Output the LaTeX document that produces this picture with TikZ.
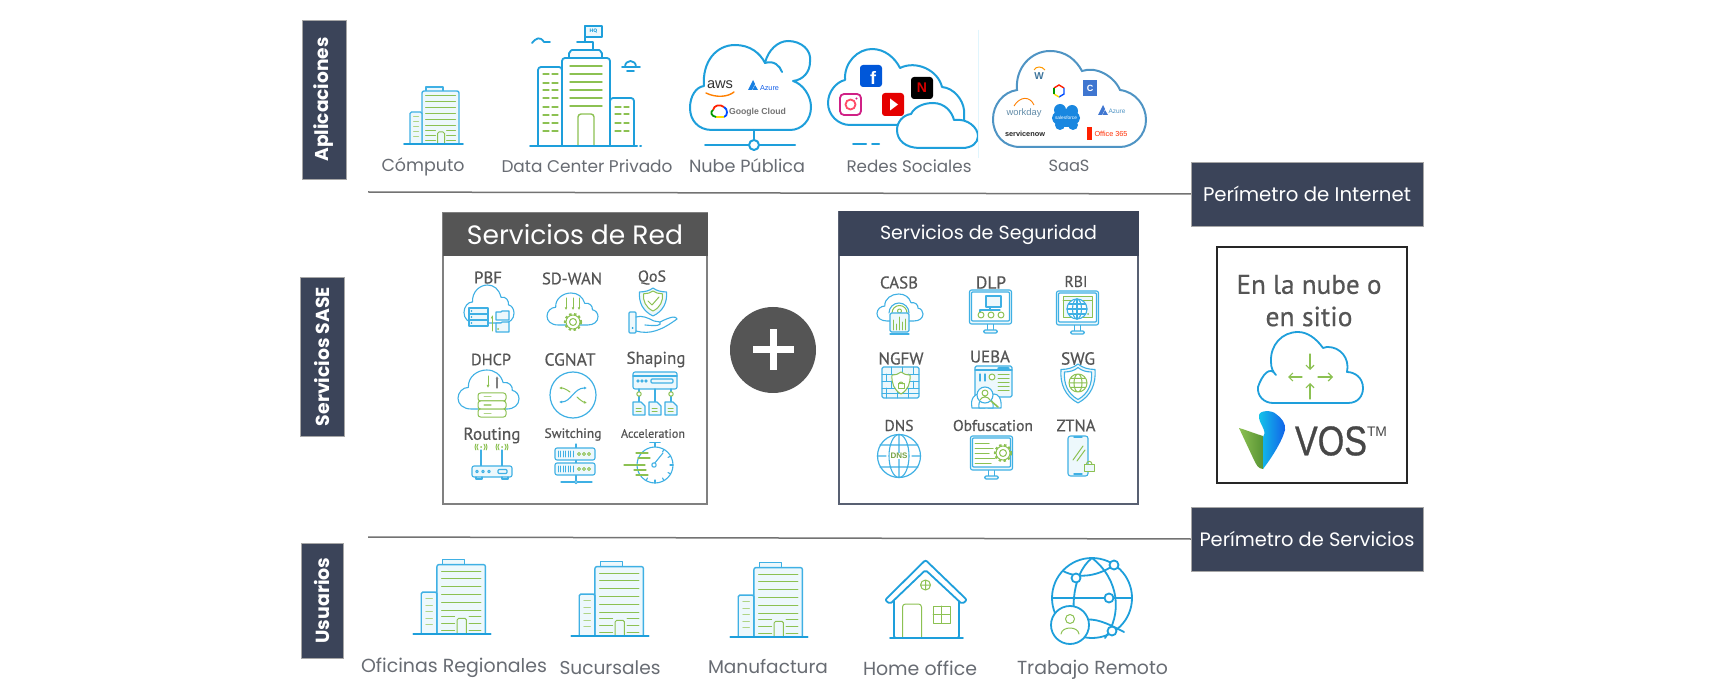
\documentclass[tikz,border=0pt]{standalone}
\usepackage{fontspec}
\usepackage{graphicx}
\setmainfont{Poppins}
\newfontfamily\ilabf[FakeBold=0.5]{PT Sans}
\newfontfamily\logof{Liberation Sans}
\newfontfamily\vosf[FakeBold=0.8]{Liberation Sans}
\usetikzlibrary{arrows.meta}
\definecolor{navy}{HTML}{3B4459}
\definecolor{headgrey}{HTML}{555555}
\definecolor{ib}{HTML}{1E9FDB}
\definecolor{ibl}{HTML}{3FB0E4}
\definecolor{ig}{HTML}{8CC152}
\definecolor{txt}{HTML}{686C73}
\definecolor{pale}{HTML}{EDF8FC}
\definecolor{steel}{HTML}{4F94C4}
\newcommand\fw[2]{\resizebox{#1pt}{!}{#2}}
\tikzset{
  bl/.style={draw=ib,line width=1.8pt,line join=round,line cap=round},
  blt/.style={draw=ibl,line width=1.1pt,line join=round,line cap=round},
  gr/.style={draw=ig,line width=1pt,line cap=round,line join=round},
  lbl/.style={inner sep=0pt,text=txt,font=\fontsize{18}{18}\selectfont},
  ilab/.style={inner sep=0pt,yshift=-1.5pt,text=headgrey,font=\ilabf\fontsize{18}{18}\selectfont},
  band/.style={fill=navy,draw=gray!70,line width=.5pt,inner sep=0pt,text=white,font=\bfseries\fontsize{18}{18}\selectfont},
  logo/.style={inner sep=0pt,font=\logof\fontsize{10}{10}\selectfont},
  cloudbox/.style n args={4}{shift={({(#1+#2)/2},{(#3+#4)/2+2.5*(#4-#3)/65})},xscale={(#2-#1)/100},yscale={(#4-#3)/65},
    insert path={(-28,30) .. controls (-42,30) and (-50,22) .. (-50,12) .. controls (-50,2) and (-42,-6) .. (-33,-6) .. controls (-34,-24) and (-18,-35) .. (-3,-35) .. controls (10,-35) and (20,-28) .. (24,-14) .. controls (34,-16) and (40,-8) .. (39,-1) .. controls (46,0) and (50,7) .. (50,13) .. controls (50,23) and (42,30) .. (30,30) -- cycle}},
  shieldbox/.style n args={4}{shift={(#1,#2)},xscale={#3/90},yscale={#4/100},
    insert path={(0,-50) .. controls (12,-40) and (28,-36) .. (45,-36) .. controls (48,0) and (35,32) .. (0,50) .. controls (-35,32) and (-48,0) .. (-45,-36) .. controls (-28,-36) and (-12,-40) .. (0,-50) -- cycle}},
  building/.pic={
    \draw[blt,fill=pale] (-7.5,-53) -- (-7.5,-57) -- (9.5,-57) -- (9.5,-53);
    \draw[blt,line width=1.4pt,fill=pale,rounded corners=2pt] (-11.5,0) -- (-11.5,-53) -- (25.5,-53) -- (25.5,0);
    \draw[blt,line width=1.4pt,fill=pale,rounded corners=1.5pt] (-11.5,0) -- (-11.5,-32) -- (-23.5,-32) -- (-23.5,0);
    \foreach \yy in {-48,-42,-36,-30,-24,-18} \draw[gr] (-8,\yy) -- (22,\yy);
    \foreach \yy in {-13,-8,-3} {\draw[gr] (-8,\yy) -- (2,\yy); \draw[gr] (13,\yy) -- (22,\yy);}
    \foreach \yy in {-27,-22,-17,-12,-7} \draw[gr,draw=ig!70] (-20,\yy) -- (-15,\yy);
    \draw[gr,fill=pale,rounded corners=1.5pt] (4,0) -- (4,-12) -- (11,-12) -- (11,0);
    \draw[bl] (-29.5,0) -- (29.5,0);
  },
  globe/.pic={
    \draw[blt,fill=white] (0,0) circle (10);
    \draw[blt] (0,0) ellipse (4.5 and 10);
    \draw[blt] (-10,0) -- (10,0);
    \draw[blt] (-8.7,-5) -- (8.7,-5);
    \draw[blt] (-8.7,5) -- (8.7,5);
    \draw[blt] (0,-10) -- (0,10);
  },
  monitor/.pic={
    \draw[blt] (-3,17) -- (-3,23) (3,17) -- (3,23);
    \draw[blt,fill=pale,rounded corners=1.5pt] (-7,23) rectangle (7,26);
    \draw[blt,fill=pale,rounded corners=2pt] (-21,-17) rectangle (21,17);
    \draw[blt,fill=white,rounded corners=1pt] (-19,-15) rectangle (19,14);
  },
  gearp/.pic={
    \draw[gr,line width=2.2pt,line cap=butt,dash pattern=on 2.4pt off 2.4pt] (0,0) circle (8);
    \draw[gr,fill=white] (0,0) circle (7);
    \draw[gr] (0,0) circle (3.5);
  }
}
\begin{document}
\begin{tikzpicture}[x=1pt,y=-1pt]
\useasboundingbox (0,0) rectangle (1724,692);
\fill[white] (0,0) rectangle (1724,692);

% ---------- side bands
\node[band,rotate=90,minimum width=159pt,minimum height=44pt] (bandA) at (324,99.5) {\fw{124}{Aplicaciones}};
\node[band,rotate=90,minimum width=159pt,minimum height=44pt] (bandS) at (322,356.5) {\fw{139}{Servicios SASE}};
\node[band,rotate=90,minimum width=115pt,minimum height=42pt] (bandU) at (322,600.5) {\fw{86}{Usuarios}};

% ---------- perimeter boxes and lines
\node[band,minimum width=232pt,minimum height=64pt,font=\fontsize{18}{18}\selectfont] (perI) at (1307,194) {\fw{208}{Perímetro de Internet}};
\node[band,minimum width=232pt,minimum height=64pt,font=\fontsize{18}{18}\selectfont] (perS) at (1307,539) {\fw{215}{Perímetro de Servicios}};
\coordinate (lineA) at (368,192);
\coordinate (lineB) at (368,537);
\draw[draw=gray!90!black,line width=1.5pt] (lineA) -- (perI.west);
\draw[draw=gray!90!black,line width=1.5pt] (lineB) -- (perS.west);

% ---------- top row
\pic at (433.5,144) {building};
\node[lbl] (tCom) at (423,167) {\fw{83}{Cómputo}};

% data center
\draw[bl,draw=ib,fill=pale!40] (569,58) -- (569,53) to[out=-90,in=180] (572,50) -- (599,50) to[out=0,in=-90] (602,53) -- (602,58);
\draw[bl] (593,50) -- (593,42) -- (577,42);
\draw[bl] (585,42) -- (585,26);
\draw[bl,fill=pale] (585,26) rectangle (602,37);
\node[inner sep=0pt,text=ib,font=\bfseries\fontsize{5}{5}\selectfont] (tHQ) at (593.5,31.5) {HQ};
\draw[bl,fill=white,rounded corners=3pt] (562,146) -- (562,67) -- (538,67) -- (538,146);
\draw[bl,fill=white,rounded corners=3pt] (610,146) -- (610,98) -- (634,98) -- (634,146);
\draw[bl,fill=white,rounded corners=3pt] (562,146) -- (562,58) -- (610,58) -- (610,146);
\foreach \yy in {66,74,82,90,98,106} \draw[gr,line width=1.4pt] (570,\yy) -- (602,\yy);
\foreach \yy in {74,83,90,98,107,115,123,131} {\draw[gr,line width=1.2pt] (543,\yy) -- (549,\yy); \draw[gr,line width=1.2pt] (552,\yy) -- (558,\yy);}
\foreach \yy in {107,114,123,131} {\draw[gr,line width=1.2pt] (615,\yy) -- (621,\yy); \draw[gr,line width=1.2pt] (624,\yy) -- (629,\yy);}
\draw[gr,line width=1.4pt,rounded corners=3pt] (578,146) -- (578,114) -- (594,114) -- (594,146);
\draw[bl,line width=2pt] (530,146) -- (637,146);
\draw[bl,line width=2pt] (640,146) -- (641,146);
\draw[bl,line width=1.8pt] (532,43) .. controls (536,38) and (540,36) .. (544,42) -- (550,42);
\draw[bl,line width=1.8pt] (622,67) -- (640,67);
\draw[bl,line width=1.8pt] (625,67) .. controls (625,59) and (636,59) .. (636,67);
\draw[bl,line width=1.8pt] (627,71) -- (634,71);
\node[lbl] (tDC) at (587,166) {\fw{171}{Data Center Privado}};

% public cloud
\draw[bl,line width=2pt,fill=white] (712,130) .. controls (698,130) and (690,120) .. (690,108) .. controls (690,96) and (696,87) .. (704,86) .. controls (702,62) and (716,45) .. (735,45) .. controls (750,45) and (760,53) .. (765,63) .. controls (768,50) and (778,41) .. (788,41) .. controls (801,41) and (812,50) .. (810,62) .. controls (810,72) and (803,80) .. (793,81) .. controls (803,84) and (811,96) .. (811,107) .. controls (811,120) and (802,130) .. (790,130) -- cycle;
\draw[bl,line width=2pt] (765,63) .. controls (774,60) and (780,66) .. (782,72);
\node[logo,text=black!80] (tAws) at (720,85) {\fw{26}{aws}};
\draw[draw=orange,line width=1.4pt,line cap=round] (706,93) .. controls (716,98) and (728,97) .. (734,92);
\fill[ib!80!blue] (748,90) -- (753,80) -- (755,84) -- (752,90) -- cycle;
\fill[ib!80!blue] (755,85) -- (758,90) -- (752.5,90) -- cycle;
\node[logo,text=ib!60!blue] (tAz) at (769.5,88) {\fw{19}{Azure}};
\draw[draw=red!75!orange,line width=1.8pt] (713,110) .. controls (714,105) and (720,104) .. (724,107);
\draw[draw=blue!70!cyan,line width=1.8pt] (724,107) .. controls (728,109) and (728,116) .. (724,117);
\draw[draw=yellow!80!orange,line width=1.8pt] (724,117) -- (716,117);
\draw[draw=green!60!black,line width=1.8pt] (716,117) .. controls (711,116) and (710,112) .. (713,110);
\node[logo,text=black!55,font=\logof\bfseries\fontsize{10.5}{10.5}\selectfont] (tGC) at (757.5,112) {\fw{57}{Google Cloud}};
\draw[bl,line width=2pt] (754,130) -- (754,140);
\draw[bl,line width=2pt] (705,145) -- (749,145);
\draw[bl,line width=2pt] (759,145) -- (795,145);
\draw[bl,line width=2pt,fill=white] (754,145) circle (5);
\node[lbl] (tNP) at (747,166) {\fw{116}{Nube Pública}};

% social cloud
\draw[bl,line width=2pt,fill=white] (850,125) .. controls (838,125) and (828,115) .. (828,103) .. controls (828,92) and (836,82) .. (845,80) .. controls (844,62) and (858,49) .. (872,49) .. controls (885,49) and (895,58) .. (900,68) .. controls (916,60) and (938,70) .. (942,87) .. controls (954,88) and (963,100) .. (964,110) -- (964,125) -- cycle;
\draw[bl,line width=2pt,fill=white] (920,148) .. controls (905,148) and (897,140) .. (897,130) .. controls (897,122) and (903,115) .. (911,114) .. controls (915,106) and (925,103) .. (933,103) .. controls (945,103) and (952,112) .. (954,120) .. controls (968,118) and (978,128) .. (978,136) .. controls (978,143) and (972,148) .. (962,148) -- cycle;
\draw[bl,line width=2pt] (853,144) -- (866,144) (872,144) -- (879,144);
\fill[draw=none,fill=blue!60!cyan!85!black,rounded corners=3pt] (860,65) rectangle (882,87);
\node[inner sep=0pt,text=white,font=\logof\bfseries\fontsize{18}{18}\selectfont] (tF) at (873,78) {f};
\fill[black,rounded corners=3pt] (911,77) rectangle (933,99);
\node[inner sep=0pt,text=red!85!black,font=\logof\bfseries\fontsize{14}{14}\selectfont] (tN) at (922,88) {N};
\draw[draw=magenta!70!violet,line width=1.8pt,rounded corners=4pt] (840,94) rectangle (861,115);
\draw[draw=orange!60!magenta,line width=1.8pt] (850.5,104.5) circle (5);
\fill[magenta!70!violet] (856.5,98.5) circle (1.2);
\fill[red!90!black,rounded corners=3pt] (882,93) rectangle (904,116);
\fill[white] (890,98.5) -- (898,104.5) -- (890,110.5) -- cycle;
\node[lbl] (tRS) at (909,166) {\fw{125}{Redes Sociales}};

% SaaS
\draw[draw=cyan!12,line width=1pt] (978,30) -- (978,158);
\draw[draw=steel,line width=2pt,fill=white] (1020,147) .. controls (1004,147) and (993,135) .. (993,119) .. controls (993,105) and (1003,92) .. (1017,90) .. controls (1015,68) and (1031,51) .. (1050,51) .. controls (1066,51) and (1076,60) .. (1082,71) .. controls (1096,66) and (1114,76) .. (1120,90) .. controls (1136,92) and (1146,106) .. (1146,120) .. controls (1146,135) and (1134,147) .. (1120,147) -- cycle;
\node[inner sep=0pt,text=steel!80!black,font=\logof\bfseries\fontsize{10}{10}\selectfont] (tW) at (1039,76) {W};
\draw[draw=orange!80!yellow,line width=1pt] (1034,70) .. controls (1036,66) and (1042,66) .. (1045,70);
\draw[draw=red!75!orange,line width=1.4pt] (1054,88) -- (1059,85) -- (1064,88);
\draw[draw=blue!70!cyan,line width=1.4pt] (1064,88) -- (1064,94) -- (1059,97);
\draw[draw=yellow!80!orange,line width=1.4pt] (1059,97) -- (1054,94);
\draw[draw=green!60!black,line width=1.4pt] (1054,94) -- (1054,88);
\fill[steel!80!blue] (1083,80) rectangle (1097,96);
\node[inner sep=0pt,text=white,font=\logof\bfseries\fontsize{9}{9}\selectfont] (tC) at (1090,88) {C};
\node[logo,text=steel!60!gray] (tWd) at (1024,113) {\fw{35}{workday}};
\draw[draw=orange,line width=.9pt] (1014,106) .. controls (1020,96) and (1030,96) .. (1034,105);
\fill[ib!85!blue] (1066,118) ellipse (14 and 9);
\fill[ib!85!blue] (1060,110) circle (6) (1072,111) circle (6) (1060,125) circle (5) (1073,125) circle (5);
\node[inner sep=0pt,text=white,font=\logof\fontsize{6}{6}\selectfont] (tSf) at (1066,118) {\fw{22}{salesforce}};
\fill[steel!80!blue] (1098,115) -- (1103,105) -- (1105,109) -- (1102,115) -- cycle;
\fill[steel!80!blue] (1105,110) -- (1108,115) -- (1102.5,115) -- cycle;
\node[logo,text=steel] (tAz2) at (1117,111) {\fw{17}{Azure}};
\node[logo,text=black!85,font=\logof\bfseries\fontsize{8.5}{8.5}\selectfont] (tSn) at (1025,134) {\fw{40}{servicenow}};
\fill[red!75!orange] (1087,127) rectangle (1092,140);
\node[logo,text=red!65!orange] (tO) at (1111,133.5) {\fw{33}{Office 365}};
\node[lbl] (tS) at (1069,166) {\fw{41}{SaaS}};

% ---------- Servicios de Red
\node[draw=gray,line width=2pt,fill=white,minimum width=264pt,minimum height=291pt,inner sep=0pt] (boxR) at (575,358.5) {};
\node[fill=headgrey,minimum width=265pt,minimum height=43pt,inner sep=0pt,text=white,font=\fontsize{24}{24}\selectfont] (headR) at (575,234.5) {\fw{216}{Servicios de Red}};
\node[ilab] (n1) at (488,276) {\fw{28}{PBF}};
\node[ilab] (n2) at (572,277) {\fw{60}{SD-WAN}};
\node[ilab] (n3) at (652,276) {\fw{28}{QoS}};
\node[ilab] (n4) at (491,358) {\fw{40}{DHCP}};
\node[ilab] (n5) at (570,358) {\fw{51}{CGNAT}};
\node[ilab] (n6) at (656,358) {\fw{59}{Shaping}};
\node[ilab] (n7) at (492,434) {\fw{57}{Routing}};
\node[ilab] (n8) at (573,433) {\fw{57}{Switching}};
\node[ilab] (n9) at (653,432) {\fw{64}{Acceleration}};

% PBF
\draw[blt,fill=white,cloudbox={464}{514}{285}{323}];
\foreach \yy in {308,314,320} {\draw[blt,fill=pale] (469,\yy) rectangle (488,\yy+6); \fill[ib] (471.5,\yy+3) circle (.8);}
\draw[gr] (492,331) -- (492,316);
\draw[gr,-{Latex[length=2.5pt,width=2.5pt]}] (492,324) -- (492,316);
\draw[blt,fill=pale] (496,312) -- (501,312) -- (502,311) -- (509,311) -- (509,320) -- (496,320) -- cycle;
\draw[blt,fill=pale] (496,323) -- (501,323) -- (502,322) -- (509,322) -- (509,332) -- (496,332) -- cycle;
\fill[ig] (498,329) circle (1);
% SD-WAN
\draw[blt,fill=white,cloudbox={547}{598}{293}{325}];
\foreach \xx in {566,573,579} \draw[gr,-{Latex[length=2.5pt,width=2.5pt]}] (\xx,298) -- (\xx,310);
\pic at (573,322) {gearp};
% QoS
\draw[blt,fill=pale,shieldbox={653}{302}{27}{28}];
\draw[gr,fill=white,shieldbox={653}{301}{19}{20}];
\draw[gr] (648,301) -- (652,305) -- (659,297);
\draw[blt,fill=pale,rounded corners=1pt] (629,312) rectangle (636,333);
\fill[ib] (632.5,328) circle (1);
\draw[blt] (636,317) .. controls (642,315) and (648,318) .. (654,321) -- (660,322) .. controls (662,326) and (656,326) .. (645,325);
\draw[blt] (636,331) .. controls (650,335) and (662,330) .. (677,319) .. controls (676,316) and (672,316) .. (660,322);
% DHCP
\draw[blt,fill=white,cloudbox={458}{519}{370}{409}];
\draw[gr,-{Latex[length=3pt,width=3pt]}] (488,376) -- (488,388);
\draw[blt,draw=gray,-{Latex[length=3pt,width=3pt]}] (497,388) -- (497,376);
\foreach \yy in {393,401,409} {\draw[gr,fill=white,rounded corners=2.5pt] (478,\yy) rectangle (506,\yy+8); \draw[gr,draw=ig!70] (484,\yy+4) -- (491,\yy+4);}
% CGNAT
\draw[blt,line width=1.2pt,fill=white] (573,395) circle (23);
\draw[blt,{Latex[length=3pt,width=3pt]}-{Latex[length=3pt,width=3pt]}] (559,402) .. controls (571,402) and (574,388) .. (587,388);
\draw[gr,-{Latex[length=3pt,width=3pt]}] (570,392) .. controls (566,389) and (563,388) .. (559,388);
\draw[gr,-{Latex[length=3pt,width=3pt]}] (577,397) .. controls (580,400) and (583,402) .. (587,403);
% Shaping
\draw[blt,fill=pale,rounded corners=2pt] (633,372) rectangle (677,389);
\draw[blt] (633,376) -- (677,376);
\foreach \xx in {638,642,646} \draw[blt] (\xx,381) circle (1.2);
\draw[blt,rounded corners=1pt] (651,379) rectangle (673,383);
\draw[blt] (655,389) -- (655,402) (639,389) -- (639,402) (671,389) -- (671,402);
\foreach \xx in {639,655,671} {\draw[blt,fill=pale] (\xx-6,402) -- (\xx+2,402) -- (\xx+6,406) -- (\xx+6,415) -- (\xx-6,415) -- cycle; \draw[gr] (\xx-3,408) -- (\xx+2,408) (\xx-3,411) -- (\xx+2,411);}
\draw[gr,fill=white] (639,394) circle (2.2);
\draw[gr,fill=white] (671,394) circle (2.2);
% Routing
\draw[blt] (481,450) -- (481,466) (502,450) -- (502,466);
\draw[blt,fill=pale,rounded corners=2pt] (472,466) rectangle (512,477);
\foreach \xx in {477,483,489} \draw[blt] (\xx,471.5) circle (1.3);
\draw[blt,rounded corners=1pt] (498,469.5) rectangle (507,473.5);
\draw[blt] (476,477) -- (476,479) -- (482,479) -- (482,477) (502,477) -- (502,479) -- (508,479) -- (508,477);
\foreach \xx in {481,502} {\fill[ig] (\xx,447) circle (1);
 \draw[gr] (\xx-3,449.8) arc (135:225:4) (\xx+3,449.8) arc (45:-45:4) (\xx-5.2,450) arc (150:210:6) (\xx+5.2,450) arc (30:-30:6);}
% Switching
\draw[blt] (576,444) -- (576,482);
\foreach \yy in {448,463} {\draw[blt,fill=pale,rounded corners=2pt] (555,\yy) rectangle (595,\yy+12);
 \foreach \xx in {558,560.5,563,565.5,568,570.5,573} \draw[blt,line width=.7pt] (\xx,\yy+3) -- (\xx,\yy+9);
 \foreach \xx in {579,584,589} \draw[gr] (\xx,\yy+6) circle (1.5);}
\draw[blt] (561,482) -- (592,482);
\draw[blt,fill=white] (576,482) circle (1.7);
% Acceleration
\draw[blt] (655,443) -- (655,447);
\draw[blt,line width=1.6pt] (650,442.5) -- (660,442.5);
\draw[blt,fill=white] (655,465) circle (18);
\foreach \a in {-60,-30,30,60,0,90,120} \draw[blt] (655,465) ++(\a:18) -- ++(\a+180:3);
\draw[blt] (654,464) -- (663,453);
\draw[blt,fill=white] (654,465) circle (2.2);
\foreach \xa/\xb/\yy in {636/648/453,638/650/458,624/645/465,634/646/470,636/648/475} \draw[gr,line width=1.1pt] (\xa,\yy) -- (\xb,\yy);

% plus
\node[circle,fill=headgrey,minimum size=86pt,inner sep=0pt] (plusC) at (773,350) {};
\fill[white] (752.5,346.5) rectangle (793.5,353.5);
\fill[white] (769.5,329.5) rectangle (776.5,370.5);

% ---------- Servicios de Seguridad
\node[draw=navy!85!white,line width=1.8pt,fill=white,minimum width=299pt,minimum height=292pt,inner sep=0pt] (boxS) at (988.5,358) {};
\node[fill=navy,minimum width=300pt,minimum height=45pt,inner sep=0pt] (headS) at (988.5,233.5) {};
\node[inner sep=0pt,text=white,font=\fontsize{18}{18}\selectfont] (headSt) at (988.5,235) {\fw{217}{Servicios de Seguridad}};
\node[ilab] (s1) at (899,281) {\fw{38}{CASB}};
\node[ilab] (s2) at (991,281) {\fw{30}{DLP}};
\node[ilab] (s3) at (1076,280) {\fw{23}{RBI}};
\node[ilab] (s4) at (901,357) {\fw{45}{NGFW}};
\node[ilab] (s5) at (990,355) {\fw{40}{UEBA}};
\node[ilab] (s6) at (1078,357) {\fw{34}{SWG}};
\node[ilab] (s7) at (899,424) {\fw{29}{DNS}};
\node[ilab] (s8) at (993,424) {\fw{80}{Obfuscation}};
\node[ilab] (s9) at (1076,424) {\fw{39}{ZTNA}};

% CASB
\draw[blt,fill=white,cloudbox={877}{923}{294}{321}];
\draw[gr] (892,313) arc (180:360:7.5);
\draw[blt] (889,313) arc (180:360:10);
\draw[gr,fill=white] (899.5,311) circle (2);
\draw[blt,fill=pale,rounded corners=1.5pt] (890,313) rectangle (909,332);
\foreach \xx/\hh in {893/10,896/6,899/13,902/8,905/11} \draw[gr,line width=.8pt] (\xx,330) -- (\xx,330-\hh);
\draw[blt] (890,334) -- (909,334);
% DLP
\pic at (990.5,307) {monitor};
\draw[blt,fill=pale] (986,296) rectangle (1001,307);
\draw[blt] (990,307) -- (990,310) -- (980,310) -- (980,312) (1000,310) -- (990,310);
\foreach \xx in {981,991,1001} \draw[gr,fill=white] (\xx,315) circle (3);
% RBI
\pic at (1077.5,308) {monitor};
\draw[gr,fill=pale] (1063,297) rectangle (1092,318);
\draw[gr] (1063,301) -- (1092,301);
\begin{scope}[shift={(1077,309)},scale=.6]\pic {globe};\end{scope}
\fill[ig] (1088,314) circle (1);
% NGFW
\draw[blt,fill=pale,rounded corners=1.5pt] (882,367) rectangle (919,398);
\foreach \yy in {374,381,388,393} \draw[blt,line width=.8pt] (882,\yy) -- (919,\yy);
\foreach \xx in {891,902,913} \draw[blt,line width=.8pt] (\xx,367) -- (\xx,374) (\xx-5,374) -- (\xx-5,381) (\xx,381) -- (\xx,388) (\xx-5,388) -- (\xx-5,398);
\draw[gr,fill=white,shieldbox={901}{383}{18}{22}];
\draw[gr] (898,384) rectangle (904,389);
\draw[gr] (899,384) arc (180:360:2);
% UEBA
\draw[blt,fill=pale,rounded corners=1.5pt] (975,366) rectangle (1012,397);
\draw[blt] (975,370) -- (1012,370);
\draw[blt,rounded corners=1pt] (998,367.5) rectangle (1009,369);
\foreach \yy in {375,379,383,387,391} \draw[gr] (998,\yy) -- (1009,\yy);
\draw[gr,fill=white] (992,377) circle (3);
\draw[blt] (980,374) -- (980,381) (985,374) -- (985,381);
\draw[blt,fill=white] (972,408) .. controls (970,398) and (975,394) .. (979,394) .. controls (983,394) and (986,398) .. (985,408) -- cycle;
\draw[blt,fill=white] (988,408) .. controls (987,398) and (990,394) .. (994,394) .. controls (998,394) and (1002,398) .. (1001,408) -- cycle;
\draw[blt,fill=white] (979,408) .. controls (978,400) and (982,398) .. (986,398) .. controls (990,398) and (994,400) .. (993,408) -- cycle;
\draw[blt,fill=white] (985,395) circle (8);
\draw[gr] (985,393) circle (3) (980,400) .. controls (982,396) and (988,396) .. (990,400);
\draw[gr,line width=1.6pt] (991,401) -- (998,407);
% SWG
\draw[blt,fill=pale,shieldbox={1078}{383.5}{34}{39}];
\draw[blt,fill=white,shieldbox={1078}{383.5}{27}{32}];
\draw[gr] (1078,383) circle (9) (1078,383) ellipse (4 and 9) (1069,383) -- (1087,383) (1071,378.5) -- (1085,378.5) (1071,387.5) -- (1085,387.5);
% DNS
\draw[blt,line width=1.2pt,fill=white] (899,456) circle (21.5);
\draw[blt] (899,456) ellipse (10 and 21.5) (899,434.5) -- (899,477.5) (880,445) -- (918,445) (880,467) -- (918,467) (877.5,456) -- (886,456) (912,456) -- (920.5,456);
\node[inner sep=0pt,fill=white,text=ig!85!black,font=\logof\bfseries\fontsize{8}{8}\selectfont] (tD) at (899,456) {DNS};
% Obfuscation
\pic at (991.5,453) {monitor};
\foreach \yy/\ww in {443/14,448/18,453/14,458/20,463/16} {\draw[gr] (975,\yy) -- (975+\ww,\yy);}
\pic at (1003,453) {gearp};
% ZTNA
\draw[blt,fill=pale,rounded corners=2.5pt] (1068,436) rectangle (1088,476);
\draw[blt,line width=1.4pt] (1074,437) -- (1082,437) (1074,474) -- (1082,474);
\draw[gr] (1073,460) -- (1083,446) (1077,461) -- (1085,450);
\draw[gr,fill=pale] (1084.5,464) rectangle (1094,471);
\draw[gr] (1086.5,464) arc (180:360:2.7);

% ---------- VOS box
\node[draw=black!85,line width=2pt,fill=white,minimum width=190pt,minimum height=236pt,inner sep=0pt] (boxV) at (1312,365) {};
\node[ilab,font=\ilabf\fontsize{26}{26}\selectfont] (vt1) at (1309,283) {\fw{145}{En la nube o}};
\node[ilab,font=\ilabf\fontsize{26}{26}\selectfont] (vt2) at (1309,315) {\fw{87}{en sitio}};
\draw[bl,line width=1.8pt] (1276,375) .. controls (1270,365) and (1262,375) .. (1258,387) .. controls (1257,396) and (1264,403) .. (1273,403) -- (1348,403) .. controls (1358,403) and (1363,396) .. (1363,388) .. controls (1363,378) and (1355,372) .. (1347,372) .. controls (1350,358) and (1340,347) .. (1328,347) .. controls (1328,347) and (1325,347) .. (1323,348) .. controls (1316,338) and (1307,332) .. (1298,332) .. controls (1282,332) and (1270,345) .. (1271,362) .. controls (1271,368) and (1273,372) .. (1276,375);
\draw[gr,line width=1.2pt,-{Straight Barb[length=4pt,width=8pt]}] (1310,354) -- (1310,370);
\draw[gr,line width=1.2pt,-{Straight Barb[length=4pt,width=8pt]}] (1310,399) -- (1310,383);
\draw[gr,line width=1.2pt,-{Straight Barb[length=4pt,width=8pt]}] (1302,377) -- (1288,377);
\draw[gr,line width=1.2pt,-{Straight Barb[length=4pt,width=8pt]}] (1318,377) -- (1333,377);
\shade[left color=ig,right color=ig!70!black!90!green] (1239,428) .. controls (1246,430) and (1256,434) .. (1263,436) -- (1263,469) .. controls (1258,469) and (1256,464) .. (1254,460) -- cycle;
\shade[left color=ib!60!cyan,right color=ib!60!blue] (1259,415) .. controls (1260,410) and (1272,410) .. (1276,414) .. controls (1282,418) and (1286,424) .. (1285,430) .. controls (1282,442) and (1270,460) .. (1263,469) -- (1263,437) .. controls (1268,430) and (1258,424) .. (1259,415) -- cycle;
\node[inner sep=0pt,text=black!72,font=\vosf\fontsize{39}{39}\selectfont] (vos) at (1331,441) {\resizebox{72pt}{29pt}{VOS}};
\node[inner sep=0pt,text=black!72,font=\logof\fontsize{14}{14}\selectfont] (tm) at (1377,432) {\fw{20}{TM}};

% ---------- bottom row
\pic[scale=1.31] at (452,634) {building};
\pic[scale=1.31] at (610,636) {building};
\pic[scale=1.31] at (769,637) {building};
\node[lbl] (u1) at (454,668) {\fw{186}{Oficinas Regionales}};
\node[lbl] (u2) at (610,668) {\fw{101}{Sucursales}};
\node[lbl] (u3) at (768,667) {\fw{120}{Manufactura}};
\node[lbl] (u4) at (920,668) {\fw{114}{Home office}};
\node[lbl] (u5) at (1092.5,669.5) {\fw{151}{Trabajo Remoto}};

% home
\draw[bl,fill=white,rounded corners=2pt] (894,597) -- (894,638) -- (959,638) -- (959,597);
\draw[bl,fill=white,rounded corners=2pt] (885,600) -- (925.5,560) -- (967,600) -- (962,604) -- (925.5,570) -- (890,604) -- cycle;
\draw[gr,rounded corners=3pt] (902.5,638) -- (902.5,604) -- (921.5,604) -- (921.5,638);
\draw[gr] (933,606) rectangle (950,623) (941.5,606) -- (941.5,623) (933,614.5) -- (950,614.5);
\draw[gr] (925.5,585) circle (5) (925.5,580) -- (925.5,590) (920.5,585) -- (930.5,585);
\draw[bl] (890,638) -- (963,638);
% globe remote
\draw[bl,fill=white] (1092,598) circle (40);
\draw[bl] (1092,558) .. controls (1070,575) and (1070,620) .. (1080,636) (1092,558) .. controls (1120,580) and (1122,615) .. (1105,638);
\draw[bl] (1052,598) -- (1132,598);
\draw[bl] (1063,571) .. controls (1080,580) and (1100,575) .. (1114,565);
\draw[bl] (1083,620) .. controls (1095,618) and (1105,622) .. (1124,632);
\foreach \cx/\cy in {1114/565,1076/578,1109/598,1112/631} \draw[bl,fill=white] (\cx,\cy) circle (4.5);
\draw[bl,fill=white] (1070,625) circle (19);
\draw[gr] (1070,619) circle (4.5);
\draw[gr] (1061,634) .. controls (1062,626) and (1078,626) .. (1079,634);
\end{tikzpicture}
\end{document}
